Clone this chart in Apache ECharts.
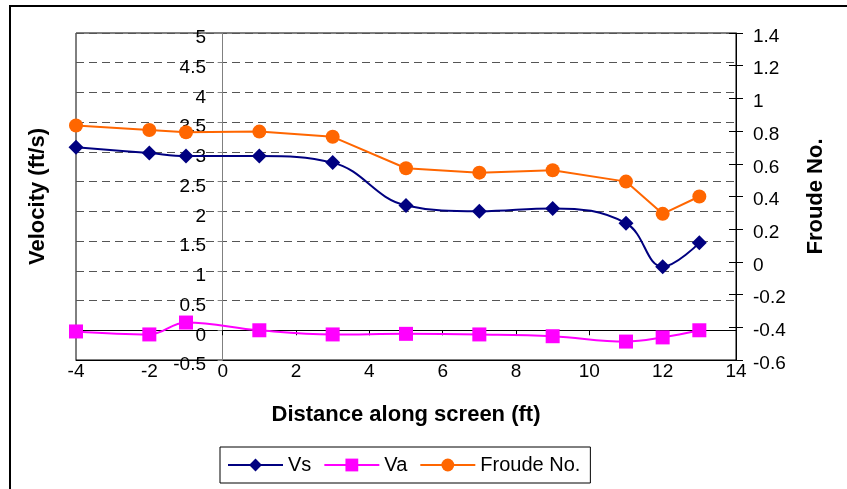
<!DOCTYPE html>
<html>
<head>
<meta charset="utf-8">
<script src="https://cdn.jsdelivr.net/npm/echarts@6/dist/echarts.min.js"></script>
<style>
  html, body { margin: 0; padding: 0; background: #fff; }
  #chart { width: 847px; height: 489px; }
</style>
</head>
<body>
<div id="chart"></div>
<script>
// Measurement stations along the screen (ft)
const distance = [-4, -2, -1, 1, 3, 5, 7, 9, 11, 12, 13];
// Velocity through the screen (ft/s)
const vs = [3.08, 2.98, 2.93, 2.93, 2.82, 2.10, 2.00, 2.05, 1.80, 1.07, 1.47];
// Velocity along the screen (ft/s)
const va = [-0.02, -0.07, 0.13, 0.0, -0.07, -0.06, -0.07, -0.10, -0.19, -0.12, 0.0];
// Froude number
const froude = [0.834, 0.807, 0.793, 0.797, 0.765, 0.573, 0.546, 0.561, 0.491, 0.294, 0.40];

const seriesNames = ['Vs', 'Va', 'Froude No.'];
const xTitle = 'Distance along screen (ft)';
const leftTitle = 'Velocity (ft/s)';
const rightTitle = 'Froude No.';

const FONT = '"Liberation Sans", Arial, sans-serif';
const pairs = (ys) => distance.map((x, i) => [x, ys[i]]);
const fmt = (v) => String(Math.round(v * 10) / 10);

const chart = echarts.init(document.getElementById('chart'), null, { renderer: 'canvas' });

chart.setOption({
  animation: false,
  backgroundColor: '#fff',
  textStyle: { fontFamily: FONT },
  graphic: [{
    type: 'rect',
    shape: { x: 10, y: 6, width: 900, height: 600 },
    style: { fill: 'none', stroke: '#000', lineWidth: 2 },
    silent: true
  }],
  grid: {
    left: 76, right: 111, top: 33, bottom: 129,
    outerBoundsMode: 'none', containLabel: false,
    show: true, borderColor: '#000', borderWidth: 1
  },
  legend: {
    data: seriesNames,
    left: 220, top: 447,
    itemWidth: 55, itemHeight: 16, itemGap: 12,
    padding: [7, 10, 7, 7],
    borderColor: '#000', borderWidth: 1,
    textStyle: { fontFamily: FONT, fontSize: 20, color: '#000', lineHeight: 22 }
  },
  xAxis: [{
    type: 'value', min: -4, max: 14, interval: 2,
    position: 'bottom',
    axisLine: { onZero: false, lineStyle: { color: '#000', width: 1 } },
    axisTick: { show: false },
    axisLabel: { fontSize: 19, color: '#000', margin: 2, fontFamily: FONT },
    splitLine: { show: false },
    name: xTitle, nameLocation: 'middle', nameGap: 44,
    nameTextStyle: { fontSize: 22, fontWeight: 'bold', color: '#000', fontFamily: FONT }
  }, {
    // x axis line through zero velocity
    type: 'value', min: -4, max: 14, interval: 2,
    position: 'bottom',
    axisLine: { onZero: true, onZeroAxisIndex: 0, lineStyle: { color: '#000', width: 1 } },
    axisTick: { show: true, inside: false, length: 5, lineStyle: { color: '#000' } },
    axisLabel: { show: false },
    splitLine: { show: false }
  }],
  yAxis: [{
    // velocity scale: labels sit beside the zero-distance line
    type: 'value', min: -0.5, max: 5, interval: 0.5,
    position: 'left',
    axisLine: { show: false, onZero: false },
    axisTick: { show: false },
    axisLabel: {
      inside: true, align: 'right', margin: 130,
      verticalAlign: 'top', lineHeight: 10,
      fontSize: 19, color: '#000', formatter: fmt, fontFamily: FONT
    },
    splitLine: { show: true, lineStyle: { color: '#555', width: 1, type: [8, 5] } },
    name: leftTitle, nameLocation: 'middle', nameRotate: 90, nameGap: 27,
    nameTextStyle: { fontSize: 22, fontWeight: 'bold', color: '#000', fontFamily: FONT }
  }, {
    type: 'value', min: -0.6, max: 1.4, interval: 0.2,
    position: 'right',
    axisLine: { show: true, onZero: false, lineStyle: { color: '#000', width: 1 } },
    axisTick: { show: true, inside: false, length: 7, lineStyle: { color: '#000' } },
    axisLabel: {
      margin: 17, verticalAlign: 'top', lineHeight: 7,
      fontSize: 19, color: '#000', formatter: fmt, fontFamily: FONT
    },
    splitLine: { show: false },
    name: rightTitle, nameLocation: 'middle', nameRotate: 90, nameGap: 69,
    nameTextStyle: { fontSize: 22, fontWeight: 'bold', color: '#000', fontFamily: FONT }
  }, {
    // inner half of the cross ticks on the Froude axis
    type: 'value', min: -0.6, max: 1.4, interval: 0.2,
    position: 'right',
    axisLine: { show: false, onZero: false },
    axisTick: { show: true, inside: true, length: 7, lineStyle: { color: '#000' } },
    axisLabel: { show: false },
    splitLine: { show: false }
  }, {
    // vertical line at zero distance
    type: 'value', min: -0.5, max: 5, interval: 0.5,
    position: 'left',
    axisLine: { show: true, onZero: true, onZeroAxisIndex: 0, lineStyle: { color: '#808080', width: 1 } },
    axisTick: { show: true, inside: false, length: 5, lineStyle: { color: '#808080' } },
    axisLabel: { show: false },
    splitLine: { show: false }
  }],
  series: [{
    name: seriesNames[0], type: 'line',
    xAxisIndex: 0, yAxisIndex: 0,
    data: pairs(vs),
    smooth: 0.4,
    symbol: 'diamond', symbolSize: 15,
    itemStyle: { color: '#000080' },
    lineStyle: { color: '#000080', width: 2 }
  }, {
    name: seriesNames[1], type: 'line',
    xAxisIndex: 0, yAxisIndex: 0,
    data: pairs(va),
    smooth: 0.4,
    symbol: 'rect', symbolSize: 14,
    itemStyle: { color: '#FF00FF' },
    lineStyle: { color: '#FF00FF', width: 2 }
  }, {
    name: seriesNames[2], type: 'line',
    xAxisIndex: 0, yAxisIndex: 1,
    data: pairs(froude),
    symbol: 'circle', symbolSize: 14,
    itemStyle: { color: '#FF6600' },
    lineStyle: { color: '#FF6600', width: 2 }
  }]
});
</script>
</body>
</html>
